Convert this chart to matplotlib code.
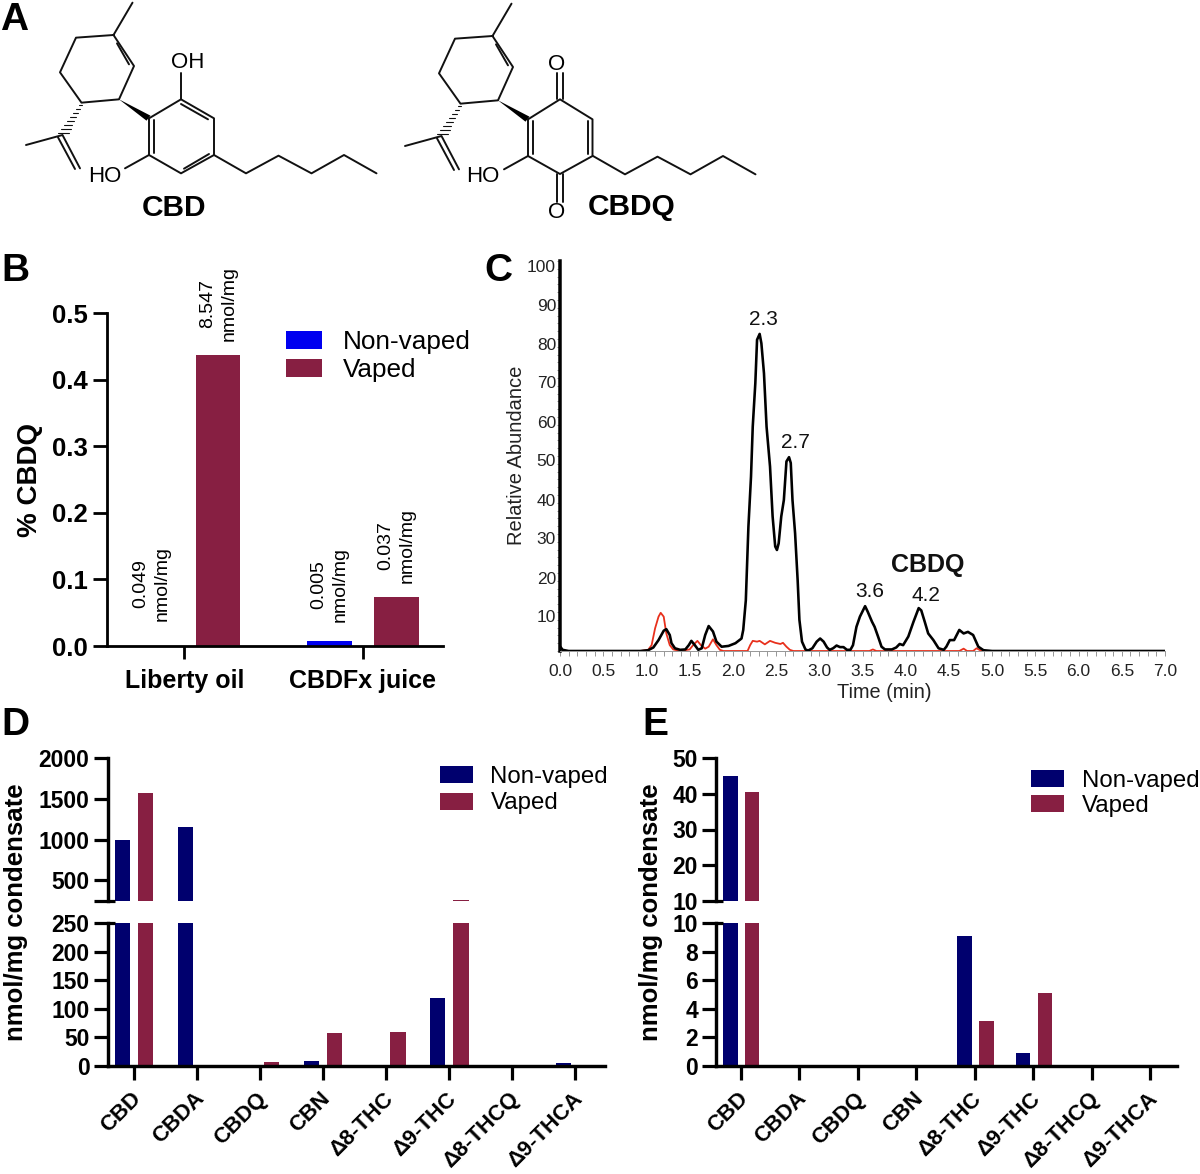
import numpy as np
import matplotlib
matplotlib.use("Agg")
import matplotlib.pyplot as plt
from matplotlib.transforms import ScaledTranslation

plt.rcParams['font.family'] = ['Liberation Sans', 'DejaVu Sans']

W, H = 1200, 1174
NAVY, MAROON, BLUE = '#00006E', '#871F42', '#0000F0'

# Panel B
b_groups = ['Liberty oil', 'CBDFx juice']
b_nonvaped = [0.0, 0.0075]
b_vaped = [0.437, 0.073]
b_notes_non = ['0.049\nnmol/mg', '0.005\nnmol/mg']
b_notes_vap = ['8.547\nnmol/mg', '0.037\nnmol/mg']

# Panel C
c_black_t = [0.0, 0.03, 0.1, 0.93, 1.02, 1.08, 1.14, 1.20, 1.23, 1.27, 1.29, 1.33, 1.39, 1.45, 1.49, 1.52, 1.56, 1.60,
             1.64, 1.68, 1.72, 1.77, 1.81, 1.87, 1.95, 2.03, 2.10, 2.12, 2.15, 2.18, 2.21, 2.23, 2.26, 2.28, 2.31,
             2.33, 2.36, 2.39, 2.43, 2.46, 2.49, 2.51, 2.53, 2.56, 2.59, 2.62, 2.65, 2.67, 2.69, 2.72, 2.75, 2.77,
             2.80, 2.84, 2.87, 2.92, 2.97, 3.01, 3.05, 3.09, 3.12, 3.16, 3.20, 3.24, 3.28, 3.32, 3.36, 3.39, 3.43,
             3.47, 3.53, 3.56, 3.61, 3.64, 3.68, 3.72, 3.76, 3.84, 3.89, 3.93, 3.97, 4.03, 4.09, 4.15, 4.18, 4.22,
             4.26, 4.32, 4.38, 4.44, 4.47, 4.51, 4.56, 4.62, 4.67, 4.72, 4.78, 4.84, 4.90, 5.0, 7.0]
c_black_v = [1.2, 0.3, 0.0, 0.0, 0.2, 0.9, 2.8, 5.2, 5.6, 4.1, 2.0, 0.7, 0.3, 0.4, 1.5, 2.6, 1.5, 0.3,
             0.7, 4.1, 6.4, 5.0, 2.4, 1.1, 1.3, 2.0, 3.2, 5.4, 13.0, 31.9, 44.7, 57.5, 68.7, 79.8, 81.3,
             78.9, 71.2, 57.5, 47.3, 34.5, 26.8, 25.9, 27.6, 34.5, 38.7, 48.6, 49.7, 48.2, 38.7, 30.2, 18.0, 8.0,
             2.4, 0.4, 0.1, 0.7, 2.4, 3.2, 2.4, 0.9, 0.3, 0.7, 1.4, 1.0, 1.0, 0.3, 0.3, 1.5, 6.2,
             8.8, 11.5, 10.1, 7.5, 6.2, 3.7, 1.1, 0.4, 0.4, 0.9, 1.8, 1.5, 3.7, 7.5, 11.0, 10.4, 7.5,
             4.5, 2.8, 0.7, 0.3, 1.1, 2.8, 2.8, 5.4, 4.5, 4.9, 4.1, 1.1, 0.2, 0.0, 0.0]
c_red_t = [0.93, 1.02, 1.06, 1.10, 1.14, 1.165, 1.20, 1.23, 1.27, 1.31, 1.39, 1.50, 1.54, 1.59, 1.63, 1.68, 1.72, 1.77,
           1.81, 1.85, 1.89, 2.17, 2.20, 2.23, 2.28, 2.31, 2.37, 2.43, 2.49, 2.55, 2.58, 2.62, 2.66, 2.70, 3.58, 3.62,
           3.66, 4.62, 4.67, 4.71, 4.78, 4.82, 4.86, 4.92]
c_red_v = [0.0, 0.3, 1.5, 5.8, 8.8, 9.8, 8.8, 4.5, 1.5, 0.4, 0.0, 0.4, 1.5, 2.6, 1.5, 0.6, 1.1, 3.0,
           1.5, 0.3, 0.0, 0.0, 1.5, 2.6, 2.4, 2.6, 1.7, 2.6, 2.1, 1.8, 2.1, 1.1, 0.3, 0.0, 0.0, 0.4,
           0.0, 0.0, 0.6, 0.0, 0.0, 0.7, 0.2, 0.0]
c_peak_labels = ['2.3', '2.7', '3.6', '4.2']
c_peak_t = [2.35, 2.72, 3.58, 4.23]
c_peak_v = [85.0, 53.5, 15.2, 14.2]

# Panels D and E
compounds = ['CBD', 'CBDA', 'CBDQ', 'CBN', 'Δ8-THC', 'Δ9-THC', 'Δ8-THCQ', 'Δ9-THCA']
d_nonvaped = [1000, 1150, 0, 8, 0, 118, 0, 5]
d_vaped = [1570, 0, 7, 57, 60, 255, 0, 0]
e_nonvaped = [45.0, 0, 0, 0, 9.1, 0.9, 0, 0]
e_vaped = [40.6, 0, 0, 0, 3.15, 5.1, 0, 0]

fig = plt.figure(figsize=(W / 100, H / 100), dpi=100, facecolor='white')


def ax_px(l, r, t, b, **kw):
    return fig.add_axes([l / W, 1 - b / H, (r - l) / W, (b - t) / H], **kw)


def px(p):
    return p * 72 / 100


def legend_px(ax, handles, left, top, fs, spacing, hw, gap):
    fs_px = fs * 100 / 72
    ax.legend(handles, ['Non-vaped', 'Vaped'], loc='upper left',
              bbox_to_anchor=(left / W, 1 - top / H), bbox_transform=fig.transFigure,
              frameon=False, borderpad=0, borderaxespad=0, fontsize=fs,
              handlelength=hw / fs_px, handleheight=0.7, handletextpad=gap / fs_px,
              labelspacing=spacing / fs_px)


# ---- overlay for panel letters and structures
bg = fig.add_axes([0, 0, 1, 1], zorder=0)
bg.set_xlim(0, W)
bg.set_ylim(H, 0)
bg.axis('off')
for s, x, y in [('A', 0, 30), ('B', 1, 281), ('C', 484, 281), ('D', 1, 735), ('E', 642, 735)]:
    bg.text(x, y, s, fontsize=28, fontweight='bold', ha='left', va='baseline')


def seg(pts, dx=0, dy=0, lw=1.4, **kw):
    xs = [(p[0] + dx) / 2 for p in pts]
    ys = [(p[1] + dy) / 3 for p in pts]
    bg.plot(xs, ys, color='#111111', lw=lw, solid_capstyle='round', solid_joinstyle='round', **kw)


def terpene(dx=0, dy=0):
    seg([(265, 8), (227, 105), (152, 113), (120, 217), (163, 308), (238, 298), (268, 198), (227, 105)], dx, dy)
    seg([(234, 130), (258, 193)], dx, dy)
    seg([(52, 435), (125, 405), (160, 505)], dx, dy)
    seg([(116, 412), (150, 507)], dx, dy)
    for f in np.linspace(0.06, 0.95, 8):
        cx = 163 + (125 - 163) * f
        cy = 308 + (405 - 308) * f
        hw = 2 + 9 * f
        seg([(cx - hw, cy), (cx + hw, cy)], dx, dy, lw=0.8)
    bg.fill([(238 + dx) / 2, (301 + dx) / 2, (293 + dx) / 2], [(298 + dy) / 3, (347 + dy) / 3, (362 + dy) / 3],
            color='black', lw=0)
    seg([(428, 465), (492, 520), (557, 467), (623, 520), (688, 465), (753, 520)], dx, dy)


terpene()
seg([(298, 355), (362, 298), (428, 355), (428, 465), (362, 520), (298, 465), (298, 355)])
seg([(308, 360), (308, 460)])
seg([(362, 312), (416, 358)])
seg([(368, 506), (418, 462)])
seg([(362, 298), (362, 218)])
seg([(298, 465), (250, 505)])
bg.text(188, 63, 'OH', fontsize=16, ha='center', va='center')
bg.text(105, 176, 'HO', fontsize=16, ha='center', va='center')
bg.text(174, 208, 'CBD', fontsize=21.5, fontweight='bold', ha='center', va='center')

terpene(758, 3)
seg([(1056, 358), (1120, 298), (1185, 358), (1185, 468), (1120, 522), (1056, 468), (1056, 358)])
seg([(1066, 362), (1066, 462)])
seg([(1175, 362), (1175, 462)])
seg([(1114, 298), (1114, 220)])
seg([(1125, 298), (1125, 220)])
seg([(1114, 522), (1114, 605)])
seg([(1125, 522), (1125, 605)])
seg([(1056, 468), (1008, 508)])
bg.text(557, 64, 'O', fontsize=16, ha='center', va='center')
bg.text(557, 213, 'O', fontsize=16, ha='center', va='center')
bg.text(483, 176, 'HO', fontsize=16, ha='center', va='center')
bg.text(632, 207, 'CBDQ', fontsize=21.5, fontweight='bold', ha='center', va='center')

# ---- panel B
axb = ax_px(107, 443, 313.3, 646, zorder=2)
axb.patch.set_alpha(0)
xb = np.arange(len(b_groups))
b1 = axb.bar(xb - 0.186, b_nonvaped, 0.25, color=BLUE)
b2 = axb.bar(xb + 0.19, b_vaped, 0.25, color=MAROON)
axb.set_xlim(-0.433, 1.45)
axb.set_ylim(0, 0.5)
axb.set_xticks(xb, b_groups, fontsize=18, fontweight='bold')
axb.set_yticks([0, 0.1, 0.2, 0.3, 0.4, 0.5], ['0.0', '0.1', '0.2', '0.3', '0.4', '0.5'],
               fontsize=18.5, fontweight='bold')
axb.tick_params(axis='both', length=px(14), width=px(2.8), pad=px(5))
axb.tick_params(axis='x', pad=px(10), length=px(13))
for s in ['top', 'right']:
    axb.spines[s].set_visible(False)
for s in ['left', 'bottom']:
    axb.spines[s].set_linewidth(px(2.8))
axb.set_ylabel('% CBDQ', fontsize=20, fontweight='bold')
axb.yaxis.label.set_va('center')
axb.yaxis.set_label_coords((30 - 107) / 336, (646 - 480) / 332.7)
for i in range(2):
    axb.annotate(b_notes_non[i], (xb[i] - 0.186, b_nonvaped[i]), xytext=(0, px(25 if i == 0 else 19)),
                 textcoords='offset points', rotation=90, ha='center', va='bottom',
                 fontsize=14, linespacing=1.35, multialignment='center')
    axb.annotate(b_notes_vap[i], (xb[i] + 0.19, b_vaped[i]), xytext=(0, px(14)),
                 textcoords='offset points', rotation=90, ha='center', va='bottom',
                 fontsize=14, linespacing=1.35, multialignment='center')
legend_px(axb, [b1, b2], 286, 330, 18.8, 4, 36, 21)

# ---- panel C
axc = ax_px(560, 1165, 261, 651, zorder=2)
axc.patch.set_alpha(0)
axc.plot(c_red_t, c_red_v, color='#E8301C', lw=px(1.8), solid_joinstyle='round')
axc.plot(c_black_t, c_black_v, color='black', lw=px(2.6), solid_joinstyle='round')
axc.set_xlim(0, 7)
axc.set_ylim(0, 100)
axc.set_xticks(np.arange(0, 7.01, 0.5), [f'{v:.1f}' for v in np.arange(0, 7.01, 0.5)], fontsize=12.5)
axc.set_xticks(np.arange(0, 7.01, 0.1), minor=True)
axc.set_yticks(np.arange(10, 101, 10), [str(v) for v in range(10, 101, 10)], fontsize=12.5)
axc.set_yticks(np.arange(0, 101, 2), minor=True)
axc.tick_params(axis='x', which='both', length=px(5), width=px(1), color='#999999', labelcolor='#222222', pad=px(8))
axc.tick_params(axis='y', which='both', length=px(3), width=px(1), color='#999999', labelcolor='#222222', pad=px(1))
offset = ScaledTranslation(0, -4.5 / 100, fig.dpi_scale_trans)
for lab in axc.get_yticklabels():
    lab.set_transform(lab.get_transform() + offset)
for s in ['top', 'right']:
    axc.spines[s].set_visible(False)
axc.spines['left'].set_linewidth(px(3.5))
axc.spines['bottom'].set_linewidth(px(1))
axc.spines['bottom'].set_color('#999999')
axc.set_ylabel('Relative Abundance', fontsize=14.5, color='#222222')
axc.yaxis.set_label_coords((517 - 560) / 605, (651 - 455) / 390)
axc.set_xlabel('Time (min)', fontsize=14.3, color='#222222')
axc.xaxis.set_label_coords((884 - 560) / 605, -(692 - 651) / 390, )
axc.xaxis.label.set_va('center')
axc.yaxis.label.set_va('center')
for lab, t, v in zip(c_peak_labels, c_peak_t, c_peak_v):
    axc.text(t, v, lab, fontsize=15, ha='center', va='center', color='#111111')
axc.text(4.26, 22.0, 'CBDQ', fontsize=18, fontweight='bold', ha='center', va='center', color='#111111')


# ---- panels D and E
def broken(left, right, first, last, top_lim, low_lim, top_ticks, low_ticks, non, vap, off, width,
           ylab_x, leg_left, leg_top, leg_fs, leg_spacing, mark_px):
    spacing = (last - first) / 7
    xlim = ((left - first) / spacing, (right - first) / spacing)
    top = ax_px(left, right, 758.3, 900.7, zorder=2)
    low = ax_px(left, right, 923.3, 1065.7, zorder=2)
    x = np.arange(len(compounds))
    handles = None
    for a in (top, low):
        a.patch.set_alpha(0)
        h1 = a.bar(x + off[0], non, width, color=NAVY)
        h2 = a.bar(x + off[1], vap, width, color=MAROON)
        handles = [h1, h2]
        a.set_xlim(*xlim)
        for s in ['top', 'right']:
            a.spines[s].set_visible(False)
        a.spines['left'].set_linewidth(px(3.4))
        a.spines['bottom'].set_linewidth(px(3.4))
        a.tick_params(axis='y', length=px(14), width=px(3.2), pad=px(4))
    top.set_ylim(*top_lim)
    low.set_ylim(*low_lim)
    top.spines['bottom'].set_visible(False)
    top.set_xticks([])
    top.set_yticks(top_ticks[0], top_ticks[1], fontsize=16.5, fontweight='bold')
    low.set_yticks(low_ticks, [str(v) for v in low_ticks], fontsize=16.5, fontweight='bold')
    low.set_xticks(x, compounds, fontsize=15.8, fontweight='bold', rotation=45, ha='right',
                   rotation_mode='anchor', va='center')
    low.tick_params(axis='x', length=px(14), width=px(3.2), pad=px(16))
    shift = ScaledTranslation(4 / 100, 0, fig.dpi_scale_trans)
    for lab in low.get_xticklabels():
        lab.set_transform(lab.get_transform() + shift)
    for a, yv in ((top, top_lim[0]), (low, low_lim[1])):
        a.plot([0, mark_px / (right - left)], [yv, yv], color='black', lw=px(3.2),
               transform=a.get_yaxis_transform(), clip_on=False, solid_capstyle='butt')
    low.set_ylabel('nmol/mg condensate', fontsize=18.5, fontweight='bold')
    low.yaxis.label.set_va('center')
    low.yaxis.set_label_coords((ylab_x - left) / (right - left), (1065.7 - 912) / 142.4)
    legend_px(top, handles, leg_left, leg_top, leg_fs, leg_spacing, 33, 18)


broken(107.5, 604.7, 133.6, 575, (250, 2000), (0, 250),
       ([250, 500, 1000, 1500, 2000], ['', '500', '1000', '1500', '2000']),
       [0, 50, 100, 150, 200, 250], d_nonvaped, d_vaped, (-0.18, 0.19), 0.245,
       16, 439.5, 766, 17.3, 4.5, 7)
broken(716, 1177, 740.5, 1150.4, (10, 50), (0, 10),
       ([10, 20, 30, 40, 50], ['10', '20', '30', '40', '50']),
       [0, 2, 4, 6, 8, 10], e_nonvaped, e_vaped, (-0.172, 0.2), 0.247,
       651, 1031, 770, 17.3, 3, 7)

fig.savefig('out.png', dpi=100, facecolor='white')
